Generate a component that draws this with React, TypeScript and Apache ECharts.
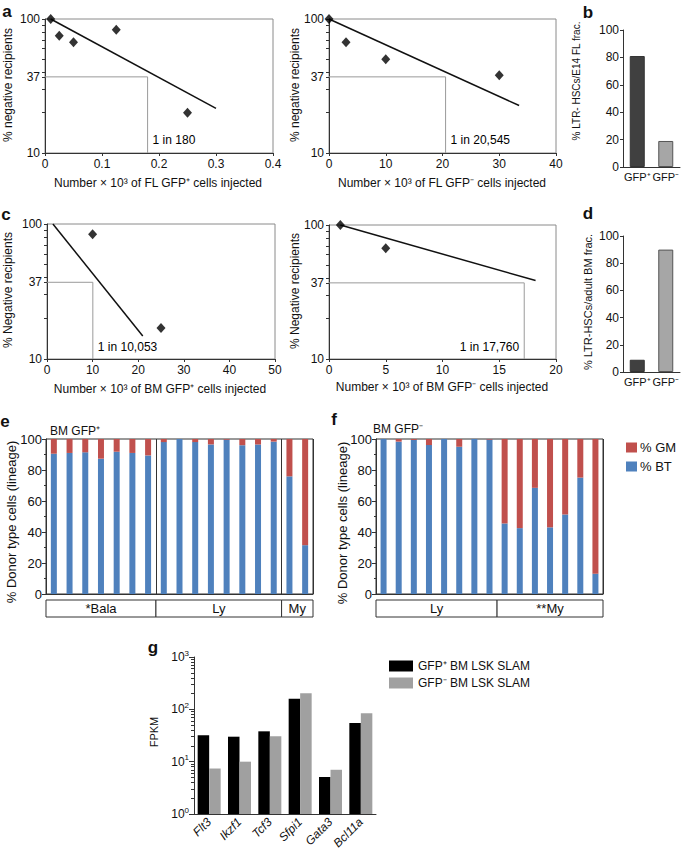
import React, { useEffect, useRef } from 'react';
import * as echarts from 'echarts';

// ---------------- data ----------------
// reference level (1/e) for limiting-dilution plots
const REF_LEVEL = 37;
const negTickLabels = [10, 37, 100];
const negTickMarks = [10, 20, 30, 37, 40, 50, 60, 70, 80, 90, 100];

// a (left): FL GFP+
const aLeftDose = [0.01, 0.025, 0.05, 0.125, 0.25];
const aLeftNeg = [100, 75, 67, 83, 20];
const aLeftFitDose = [0.01, 0.3];
const aLeftFitNeg = [100, 21.5];
const aLeftFreqDose = 0.18;
const aLeftFreqLabel = '1 in 180';

// a (right): FL GFP-
const aRightDose = [0, 3, 10, 30];
const aRightNeg = [100, 67, 50, 38];
const aRightFitDose = [0, 33.5];
const aRightFitNeg = [100, 22.6];
const aRightFreqDose = 20.545;
const aRightFreqLabel = '1 in 20,545';

// c (left): BM GFP+
const cLeftDose = [10, 25];
const cLeftNeg = [84, 17];
const cLeftFitDose = [1.3, 21];
const cLeftFitNeg = [100, 14.8];
const cLeftFreqDose = 10.053;
const cLeftFreqLabel = '1 in 10,053';

// c (right): BM GFP-
const cRightDose = [1, 5];
const cRightNeg = [100, 67];
const cRightFitDose = [1, 18.2];
const cRightFitNeg = [100, 38.5];
const cRightFreqDose = 17.2;
const cRightFreqLabel = '1 in 17,760';

// b, d
const gfpCats = ['GFP\u207A', 'GFP\u207B'];
const bValues = [81, 19];
const dValues = [9, 90];

// e: BM GFP+
const eGroups = ['*Bala', 'Ly', 'My'];
const eGroupSizes = [7, 8, 2];
const eBT = [90.5, 91, 91.4, 87.3, 91.8, 91, 89.4, 98, 100, 98, 96.5, 99.5, 96, 96.5, 98.3, 75.9, 31.5];
const eGM = [9.5, 9, 8.6, 12.7, 8.2, 9, 10.6, 2, 0, 2, 3.5, 0.5, 4, 3.5, 1.7, 24.1, 68.5];

// f: BM GFP-
const fGroups = ['Ly', '**My'];
const fGroupSizes = [8, 7];
const fBT = [100, 98.3, 99.4, 96.1, 100, 95, 100, 99.6, 45.5, 42.5, 68.5, 43, 51.3, 75.1, 13.1];
const fGM = [0, 1.7, 0.6, 3.9, 0, 5, 0, 0.4, 54.5, 57.5, 31.5, 57, 48.7, 24.9, 86.9];

// g
const genes = ['Flt3', 'Ikzf1', 'Tcf3', 'Sfpi1', 'Gata3', 'Bcl11a'];
const gfpPosFpkm = [32, 30, 38, 160, 5.1, 55];
const gfpNegFpkm = [7.4, 10, 30.5, 202, 7.0, 84];

// ---------------- style / layout ----------------
const FONT = '"Liberation Sans", Arial, Helvetica, sans-serif';
const INK = '#111111';
const AXIS = '#333333';
const FRAME = '#8a8a8a';
const REF = '#9a9a9a';
const BLUE = '#4f81bd';
const RED = '#c0504d';

const GRIDS = [
  { left: 45, top: 19, width: 228, height: 134 }, // a left
  { left: 329, top: 19, width: 227, height: 134 }, // a right
  { left: 47, top: 224, width: 228, height: 135 }, // c left
  { left: 329, top: 225, width: 227, height: 134 }, // c right
  { left: 623, top: 30, width: 57, height: 137 }, // b
  { left: 623, top: 236, width: 57, height: 136 }, // d
  { left: 46, top: 439, width: 267, height: 155 }, // e
  { left: 376, top: 439, width: 227, height: 155 }, // f
  { left: 194, top: 657, width: 182, height: 157 }, // g
];

const lg = (v: number) => Math.log10(v);

type LD = {
  g: number; xMax: number; xStep: number;
  dose: number[]; neg: number[]; fitDose: number[]; fitNeg: number[];
  freq: number; label: string; labelNeg: number; side: 'left' | 'right';
};

const ldPanels: LD[] = [
  { g: 0, xMax: 0.4, xStep: 0.1, dose: aLeftDose, neg: aLeftNeg, fitDose: aLeftFitDose, fitNeg: aLeftFitNeg, freq: aLeftFreqDose, label: aLeftFreqLabel, labelNeg: 12.4, side: 'right' },
  { g: 1, xMax: 40, xStep: 10, dose: aRightDose, neg: aRightNeg, fitDose: aRightFitDose, fitNeg: aRightFitNeg, freq: aRightFreqDose, label: aRightFreqLabel, labelNeg: 12.4, side: 'right' },
  { g: 2, xMax: 50, xStep: 10, dose: cLeftDose, neg: cLeftNeg, fitDose: cLeftFitDose, fitNeg: cLeftFitNeg, freq: cLeftFreqDose, label: cLeftFreqLabel, labelNeg: 12.3, side: 'right' },
  { g: 3, xMax: 20, xStep: 5, dose: cRightDose, neg: cRightNeg, fitDose: cRightFitDose, fitNeg: cRightFitNeg, freq: cRightFreqDose, label: cRightFreqLabel, labelNeg: 12.3, side: 'left' },
];

function buildOption() {
  const grid: any[] = GRIDS.map((r, i) => ({
    ...r,
    show: i < 4 || i === 6 || i === 7,
    borderColor: i < 4 ? FRAME : AXIS,
    borderWidth: 1,
    backgroundColor: 'transparent',
    containLabel: false,
    outerBoundsMode: 'none',
  }));

  const xAxis: any[] = [];
  const yAxis: any[] = [];
  const series: any[] = [];

  const tickLabel = (size: number) => ({ fontSize: size, color: INK, fontFamily: FONT });

  // limiting dilution panels
  ldPanels.forEach((p) => {
    xAxis[p.g] = {
      type: 'value', gridIndex: p.g, min: 0, max: p.xMax, interval: p.xStep,
      axisLine: { show: true, lineStyle: { color: AXIS, width: 1 } },
      axisTick: { show: true, length: 3, lineStyle: { color: AXIS } },
      axisLabel: { ...tickLabel(12), margin: 5 },
      splitLine: { show: false },
    };
    yAxis[p.g] = {
      type: 'value', gridIndex: p.g, min: 1, max: 2,
      axisLine: { show: true, lineStyle: { color: AXIS, width: 1 } },
      axisTick: { show: true, length: 3, lineStyle: { color: AXIS }, customValues: negTickMarks.map(lg) },
      axisLabel: { ...tickLabel(12), margin: 5, customValues: negTickLabels.map(lg), formatter: (v: number) => String(Math.round(Math.pow(10, v))) },
      splitLine: { show: false },
    };
    series.push({
      type: 'line', xAxisIndex: p.g, yAxisIndex: p.g, silent: true, symbol: 'none', z: 1,
      data: [[0, lg(REF_LEVEL)], [p.freq, lg(REF_LEVEL)], [p.freq, 1]],
      lineStyle: { color: REF, width: 1 },
    });
    series.push({
      type: 'line', xAxisIndex: p.g, yAxisIndex: p.g, silent: true, symbol: 'none', z: 2,
      data: p.fitDose.map((d, k) => [d, lg(p.fitNeg[k])]),
      lineStyle: { color: INK, width: 1.5 },
    });
    series.push({
      type: 'scatter', xAxisIndex: p.g, yAxisIndex: p.g, silent: true, z: 3, clip: false,
      symbol: 'diamond', symbolSize: [9, 10],
      data: p.dose.map((d, k) => [d, lg(p.neg[k])]),
      itemStyle: { color: '#000' },
    });
    series.push({
      type: 'scatter', xAxisIndex: p.g, yAxisIndex: p.g, silent: true, z: 4, clip: false,
      symbolSize: 0,
      data: [[p.freq, lg(p.labelNeg)]],
      itemStyle: { color: '#000', opacity: 1 },
      label: {
        show: true, position: p.side, distance: 5, formatter: p.label,
        fontSize: 12, fontFamily: FONT, color: '#000', textBorderWidth: 0, opacity: 1,
      },
    });
  });

  // b and d
  [[4, bValues], [5, dValues]].forEach(([g, vals]: any) => {
    xAxis[g] = {
      type: 'category', gridIndex: g, data: gfpCats,
      axisLine: { show: true, lineStyle: { color: AXIS } },
      axisTick: { show: false },
      axisLabel: { ...tickLabel(11), margin: 4, interval: 0 },
    };
    yAxis[g] = {
      type: 'value', gridIndex: g, min: 0, max: 100, interval: 20,
      axisLine: { show: true, lineStyle: { color: AXIS } },
      axisTick: { show: true, length: 3, lineStyle: { color: AXIS } },
      axisLabel: { ...tickLabel(12), margin: 4 },
      splitLine: { show: false },
    };
    series.push({
      type: 'bar', xAxisIndex: g, yAxisIndex: g, barWidth: 15, silent: true,
      data: [
        { value: vals[0], itemStyle: { color: '#404040', borderColor: '#333', borderWidth: 1 } },
        { value: vals[1], itemStyle: { color: '#a6a6a6', borderColor: '#555', borderWidth: 1 } },
      ],
    });
  });

  // e and f
  const stackPanel = (g: number, bt: number[], gm: number[], sizes: number[], key: string) => {
    const dividers: number[] = [];
    let acc = 0;
    sizes.slice(0, -1).forEach((s) => { acc += s; dividers.push(acc); });
    xAxis[g] = {
      type: 'category', gridIndex: g, data: bt.map((_, i) => String(i + 1)),
      axisLine: { show: true, lineStyle: { color: AXIS } },
      axisTick: { show: false },
      axisLabel: { show: false },
      splitLine: { show: true, interval: (i: number) => dividers.includes(i), lineStyle: { color: AXIS, width: 1 } },
    };
    yAxis[g] = {
      type: 'value', gridIndex: g, min: 0, max: 100, interval: 20,
      axisLine: { show: true, lineStyle: { color: AXIS } },
      axisTick: { show: true, length: 4, lineStyle: { color: AXIS } },
      minorTick: { show: true, splitNumber: 2, length: 2, lineStyle: { color: AXIS } },
      axisLabel: { ...tickLabel(13), margin: 4 },
      splitLine: { show: false },
    };
    series.push({
      name: '% BT', type: 'bar', stack: key, xAxisIndex: g, yAxisIndex: g, barWidth: 6, silent: true,
      data: bt, itemStyle: { color: BLUE },
    });
    series.push({
      name: '% GM', type: 'bar', stack: key, xAxisIndex: g, yAxisIndex: g, barWidth: 6, silent: true,
      data: gm, itemStyle: { color: RED },
    });
  };
  stackPanel(6, eBT, eGM, eGroupSizes, 'e');
  stackPanel(7, fBT, fGM, fGroupSizes, 'f');

  // g
  xAxis[8] = {
    type: 'category', gridIndex: 8, data: genes,
    axisLine: { show: true, lineStyle: { color: AXIS } },
    axisTick: { show: false },
    axisLabel: { ...tickLabel(12), fontStyle: 'italic', rotate: 45, margin: 6, interval: 0 },
  };
  yAxis[8] = {
    type: 'log', gridIndex: 8, logBase: 10, min: 1, max: 1000,
    axisLine: { show: true, lineStyle: { color: AXIS } },
    axisTick: { show: true, length: 5, lineStyle: { color: AXIS } },
    axisLabel: {
      ...tickLabel(12), margin: 5,
      formatter: (v: number) => '{b|10}{s|' + Math.round(Math.log10(v)) + '}',
      rich: {
        b: { fontSize: 12, color: INK, fontFamily: FONT },
        s: { fontSize: 8, color: INK, fontFamily: FONT, verticalAlign: 'top', padding: [0, 0, 8, 0] },
      },
    },
    splitLine: { show: false },
  };
  const gMinor: number[] = [];
  for (let d = 0; d < 3; d++) for (let k = 2; k <= 9; k++) gMinor.push(d + Math.log10(k));
  yAxis[9] = {
    type: 'value', gridIndex: 8, min: 0, max: 3, position: 'left',
    axisLine: { show: false },
    axisLabel: { show: false },
    axisTick: { show: true, length: 3, lineStyle: { color: AXIS }, customValues: gMinor },
    splitLine: { show: false },
  };
  series.push({
    name: 'GFP\u207A BM LSK SLAM', type: 'bar', xAxisIndex: 8, yAxisIndex: 8, barWidth: 11.5, barGap: '0%', silent: true,
    data: gfpPosFpkm, itemStyle: { color: '#000' },
  });
  series.push({
    name: 'GFP\u207B BM LSK SLAM', type: 'bar', xAxisIndex: 8, yAxisIndex: 8, barWidth: 11.5, barGap: '0%', silent: true,
    data: gfpNegFpkm, itemStyle: { color: '#a0a0a0' },
  });

  // graphics: titles, panel letters, category boxes
  const txt = (text: string, x: number, y: number, size: number, rot = 0, align = 'center', extra: any = {}) => ({
    type: 'text', x, y, rotation: rot, silent: true,
    style: { text, fontSize: size, fontFamily: FONT, fill: INK, align, verticalAlign: 'middle', ...extra },
  });
  const R = Math.PI / 2;
  const graphic: any[] = [
    txt('% negative recipients', 8, 85, 12, R),
    txt('Number \u00D7 10\u00B3 of FL GFP\u207A cells injected', 158, 182.5, 12),
    txt('% negative recipients', 295, 85, 12, R),
    txt('Number \u00D7 10\u00B3 of FL GFP\u207B cells injected', 442, 182.5, 12),
    txt('% LTR- HSCs/E14 FL frac.', 576, 81, 10, R),
    txt('% Negative recipients', 8, 290, 12, R),
    txt('Number \u00D7 10\u00B3 of BM GFP\u207A cells injected', 160, 389, 12),
    txt('% Negative recipients', 295, 291, 12, R),
    txt('Number \u00D7 10\u00B3 of BM GFP\u207B cells injected', 442, 387, 12),
    txt('% LTR-HSCs/adult BM frac.', 588, 302, 11, R),
    txt('% Donor type cells (lineage)', 11, 522, 13, R),
    txt('% Donor type cells (lineage)', 342, 523, 13, R),
    txt('FPKM', 154, 732, 11, R),
    txt('BM GFP\u207A', 50, 431, 12, 0, 'left'),
    txt('BM GFP\u207B', 373, 429, 12, 0, 'left'),
    txt('a', 7, 11, 17, 0, 'center', { fontWeight: 'bold' }),
    txt('b', 588, 12, 17, 0, 'center', { fontWeight: 'bold' }),
    txt('c', 6, 214, 17, 0, 'center', { fontWeight: 'bold' }),
    txt('d', 588, 213, 17, 0, 'center', { fontWeight: 'bold' }),
    txt('e', 5, 421, 17, 0, 'center', { fontWeight: 'bold' }),
    txt('f', 334, 419, 17, 0, 'center', { fontWeight: 'bold' }),
    txt('g', 153, 647, 17, 0, 'center', { fontWeight: 'bold' }),
  ];

  const boxes = (g: number, groups: string[], sizes: number[]) => {
    const r = GRIDS[g];
    const n = sizes.reduce((a, b) => a + b, 0);
    let acc = 0;
    groups.forEach((label, i) => {
      const x0 = r.left + (acc / n) * r.width;
      const w = (sizes[i] / n) * r.width;
      acc += sizes[i];
      const y0 = r.top + r.height + 6;
      graphic.push({
        type: 'rect', silent: true,
        shape: { x: x0, y: y0, width: w, height: 17 },
        style: { fill: '#fff', stroke: AXIS, lineWidth: 1 },
      });
      graphic.push(txt(label, x0 + w / 2, y0 + 8.5, 13));
    });
  };
  boxes(6, eGroups, eGroupSizes);
  boxes(7, fGroups, fGroupSizes);

  return {
    animation: false,
    backgroundColor: '#fff',
    textStyle: { fontFamily: FONT, color: INK },
    grid, xAxis, yAxis, series, graphic,
    legend: [
      {
        data: ['% GM', '% BT'], orient: 'vertical', left: 626, top: 441, padding: 0,
        itemWidth: 11, itemHeight: 10, itemGap: 6, icon: 'rect', selectedMode: false,
        textStyle: { fontSize: 13, color: INK, fontFamily: FONT, padding: [0, 0, 0, -2] },
      },
      {
        data: ['GFP\u207A BM LSK SLAM', 'GFP\u207B BM LSK SLAM'], orient: 'vertical', left: 389, top: 660, padding: 0,
        itemWidth: 24, itemHeight: 11, itemGap: 5, icon: 'rect', selectedMode: false,
        textStyle: { fontSize: 12, color: INK, fontFamily: FONT },
      },
    ],
  };
}

export default function App() {
  const ref = useRef<HTMLDivElement>(null);
  useEffect(() => {
    document.body.style.margin = '0';
    const chart = echarts.init(ref.current!, null, { renderer: 'svg' });
    chart.setOption(buildOption() as any);
    return () => chart.dispose();
  }, []);
  return <div ref={ref} style={{ width: 685, height: 857 }} />;
}
